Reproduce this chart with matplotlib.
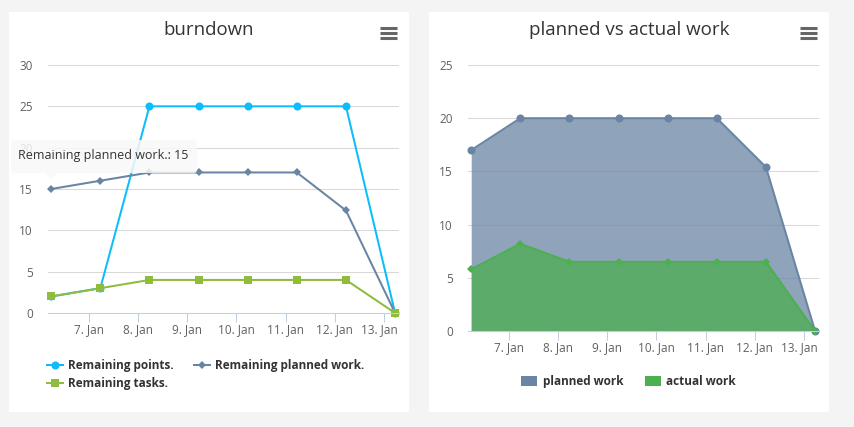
import matplotlib
matplotlib.use("Agg")
import matplotlib.pyplot as plt
from matplotlib.patches import Rectangle, FancyBboxPatch, Polygon
from matplotlib.transforms import ScaledTranslation

plt.rcParams['font.family'] = ['Open Sans', 'DejaVu Sans']

W, H = 854, 427

# data
days = [6.23, 7.23, 8.23, 9.23, 10.23, 11.23, 12.23, 13.23]
tick_days = [7, 8, 9, 10, 11, 12, 13]
tick_labels = ["7. Jan", "8. Jan", "9. Jan", "10. Jan", "11. Jan", "12. Jan", "13. Jan"]
remaining_points = [2, 3, 25, 25, 25, 25, 25, 0]
remaining_planned = [15, 16, 17, 17, 17, 17, 12.4, 0]
remaining_tasks = [2, 3, 4, 4, 4, 4, 4, 0]
planned_work = [17, 20, 20, 20, 20, 20, 15.4, 0]
actual_work = [5.8, 8.2, 6.5, 6.5, 6.5, 6.5, 6.5, 0]

BLUE = '#0dbcfd'
SLATE = '#6a84a3'
GREEN = '#8fbc3c'
AREA_GREEN = '#4caf50'
GRID = '#d8d8d8'
AXIS = '#c0d0e0'
TEXT = '#606060'


def px_axes(fig, left, right, top, bottom):
    return fig.add_axes([left / W, 1 - bottom / H, (right - left) / W, (bottom - top) / H])


def style_axes(ax, ymax, ystep):
    ax.set_xlim(6.165, 13.31)
    ax.set_ylim(0, ymax)
    ax.set_yticks(range(0, ymax + 1, ystep))
    ax.set_xticks(tick_days)
    ax.set_xticklabels(tick_labels)
    ax.grid(axis='y', color=GRID, lw=0.75)
    ax.set_axisbelow(True)
    for s in ['top', 'right', 'left']:
        ax.spines[s].set_visible(False)
    ax.spines['bottom'].set_color(AXIS)
    ax.spines['bottom'].set_linewidth(0.75)
    ax.tick_params(axis='y', length=0, pad=10.8, labelsize=8.5, labelcolor=TEXT)
    ax.tick_params(axis='x', length=6.7, width=0.75, color=AXIS, pad=0.5, labelsize=8.5, labelcolor=TEXT)
    ax.patch.set_alpha(0)
    # last label is pushed inwards so it stays inside the plot
    last = ax.get_xticklabels()[-1]
    last.set_transform(last.get_transform() + ScaledTranslation(-3 / 72, 0, fig.dpi_scale_trans))


fig = plt.figure(figsize=((W + 0.01) / 100, (H + 0.01) / 100), dpi=100, facecolor='#f4f4f4')

# background layer in pixel coordinates
bg = fig.add_axes([0, 0, 1, 1], zorder=0)
bg.set_xlim(0, W)
bg.set_ylim(H, 0)
bg.axis('off')
bg.add_patch(Rectangle((9, 12), 400, 400, fc='white', ec='none'))
bg.add_patch(Rectangle((429, 12), 400, 400, fc='white', ec='none'))
bg.text(209, 30, "burndown", ha='center', va='center', fontsize=13.4, color='#333333')
bg.text(629, 30, "planned vs actual work", ha='center', va='center', fontsize=13.5, color='#333333')
for x0 in [380, 800]:
    for y in [28, 33.5, 38.5]:
        bg.plot([x0, x0 + 17], [y, y], color='#666666', lw=2.2, solid_capstyle='butt')

# burndown
ax1 = px_axes(fig, 48, 399, 65, 313)
ax1.set_zorder(1)
style_axes(ax1, 30, 5)
l1, = ax1.plot(days, remaining_points, color=BLUE, lw=1.45, marker='o', ms=5.8, mew=0, clip_on=False, label="Remaining points.")
l2, = ax1.plot(days, remaining_planned, color=SLATE, lw=1.45, marker='D', ms=4, mew=0, clip_on=False, label="Remaining planned work.")
l3, = ax1.plot(days, remaining_tasks, color=GREEN, lw=1.45, marker='s', ms=5.8, mew=0, clip_on=False, label="Remaining tasks.")
ax1.legend(handles=[l1, l3, l2], ncol=2, frameon=False, loc='upper left',
           bbox_to_anchor=(47 / W, 1 - 359 / H), bbox_transform=fig.transFigure,
           prop={'size': 8.5, 'weight': 'bold'}, labelcolor='#333333',
           borderaxespad=0, borderpad=0, handlelength=1.35, handletextpad=0.46,
           columnspacing=1.7, labelspacing=0.42)

# planned vs actual
ax2 = px_axes(fig, 468, 819, 65, 331)
ax2.set_zorder(1)
style_axes(ax2, 25, 5)
ax2.fill_between(days, planned_work, color=SLATE, alpha=0.75, lw=0)
ax2.plot(days, planned_work, color=SLATE, lw=1.45, marker='o', ms=5.8, mew=0, clip_on=False)
ax2.fill_between(days, actual_work, color=AREA_GREEN, alpha=0.75, lw=0)
ax2.plot(days, actual_work, color=AREA_GREEN, lw=1.45, marker='D', ms=4, mew=0, clip_on=False)
h1 = Rectangle((0, 0), 1, 1, fc=SLATE, label="planned work")
h2 = Rectangle((0, 0), 1, 1, fc=AREA_GREEN, label="actual work")
ax2.legend(handles=[h1, h2], ncol=2, frameon=False, loc='upper left',
           bbox_to_anchor=(521 / W, 1 - 375 / H), bbox_transform=fig.transFigure,
           prop={'size': 8.5, 'weight': 'bold'}, labelcolor='#333333',
           borderaxespad=0, borderpad=0, handlelength=1.35, handleheight=1.0,
           handletextpad=0.5, columnspacing=1.8)

# tooltip on top of the burndown chart
top = fig.add_axes([0, 0, 1, 1], zorder=3)
top.set_xlim(0, W)
top.set_ylim(H, 0)
top.axis('off')
top.patch.set_alpha(0)
top.add_patch(FancyBboxPatch((11, 140), 186, 33, boxstyle='round,pad=0,rounding_size=3',
                             fc='#f9f9f9', ec='none', alpha=0.85))
top.add_patch(Polygon([(45, 173), (57, 173), (51, 179)], fc='#f9f9f9', ec='none', alpha=0.85))
top.text(18, 155, "Remaining planned work.: 15", ha='left', va='center', fontsize=9, color='#333333')

fig.savefig('out.png', dpi=100, facecolor=fig.get_facecolor())
